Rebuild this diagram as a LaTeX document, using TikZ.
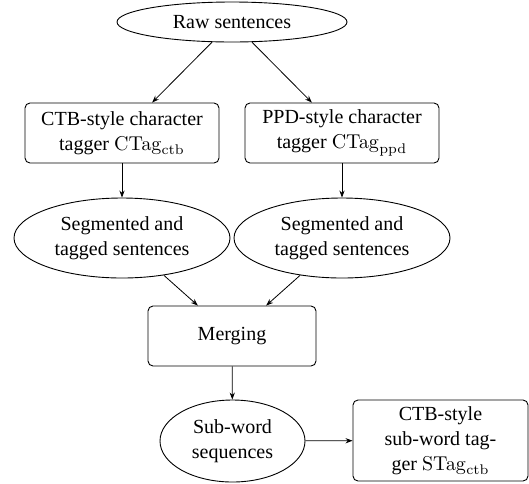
\documentclass[tikz,border=0pt]{standalone}
\usepackage[no-math]{fontspec}
\setmainfont{Liberation Serif}
\usetikzlibrary{shapes.geometric,arrows.meta}
\begin{document}
\begin{tikzpicture}[x=0.5pt,y=-0.5pt,
  box/.style={draw,rounded corners=2.5pt,align=center,inner sep=1pt,line width=0.45pt},
  ell/.style={draw,ellipse,align=center,inner sep=0pt,line width=0.45pt},
  arr/.style={-{Stealth[length=3.5pt,width=2.6pt]},line width=0.4pt},
  font=\fontsize{10}{12.5}\selectfont]
\useasboundingbox (0,0) rectangle (529,483);
\node[ell,minimum width=115pt,minimum height=20pt] (raw) at (232,22) {Raw sentences};
\node[box,minimum width=97pt,minimum height=30pt] (ctb) at (122,133) {CTB-style character\\tagger $\mathrm{CTag}_{\mathrm{ctb}}$};
\node[box,minimum width=97pt,minimum height=30pt] (ppd) at (342,133) {PPD-style character\\tagger $\mathrm{CTag}_{\mathrm{ppd}}$};
\node[ell,minimum width=108pt,minimum height=40pt] (segl) at (122,238) {Segmented and\\tagged sentences};
\node[ell,minimum width=108pt,minimum height=40pt] (segr) at (342,238) {Segmented and\\tagged sentences};
\node[box,minimum width=84pt,minimum height=30pt] (merge) at (232,336) {Merging};
\node[ell,minimum width=72.5pt,minimum height=41pt] (sub) at (232.5,441) {Sub-word\\sequences};
\node[box,minimum width=87.5pt,minimum height=40.5pt] (stag) at (440.5,440.5) {CTB-style\\sub-word tag-\\ger $\mathrm{STag}_{\mathrm{ctb}}$};
\draw[arr] (raw) -- (ctb);
\draw[arr] (raw) -- (ppd);
\draw[arr] (ctb) -- (segl);
\draw[arr] (ppd) -- (segr);
\draw[arr] (segl) -- (merge);
\draw[arr] (segr) -- (merge);
\draw[arr] (merge) -- (sub);
\draw[arr] (sub) -- (stag);
\end{tikzpicture}
\end{document}
